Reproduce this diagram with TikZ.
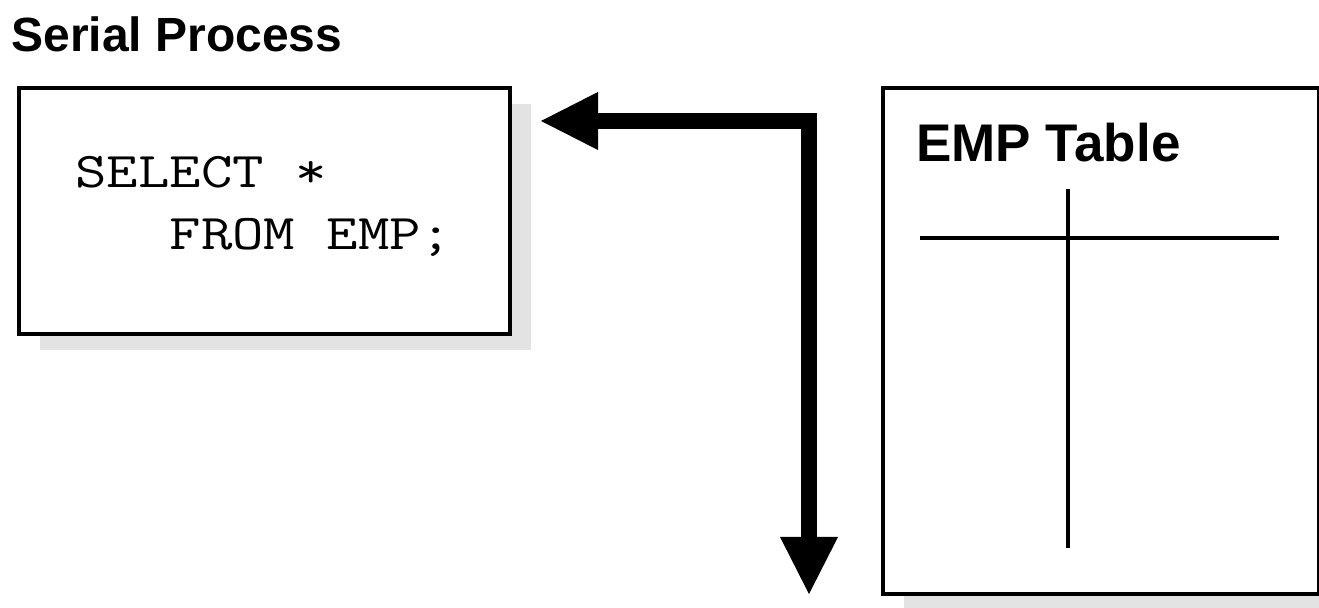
\documentclass[tikz,border=0pt]{standalone}
\usepackage{fontspec}
\setsansfont{Liberation Sans}
\usetikzlibrary{arrows.meta,shadows}

\newcommand{\codefont}{\ttfamily\fontsize{25}{31}\selectfont}

\tikzset{
  panel/.style={draw, line width=2.2pt, fill=white, anchor=north west, inner sep=0pt,
    drop shadow={shadow xshift=10.5pt, shadow yshift=-8pt, fill=black!11, opacity=1}},
  heading/.style={font=\sffamily\bfseries, anchor=base west, inner sep=0pt},
  gridline/.style={line width=2pt},
  bigarrow/.style={line width=8pt, line join=miter,
    {Triangle[length=28.5pt,width=29pt,line width=0pt]}-{Triangle[length=28.5pt,width=29pt,line width=0pt]}}
}

\begin{document}
\begin{tikzpicture}[x=0.5pt, y=-0.5pt]
  \useasboundingbox (0,0) rectangle (1319,608);

  % Serial process with its query
  \node[heading, font=\sffamily\bfseries\fontsize{24}{28}\selectfont] (serial) at (11,52) {Serial Process};
  \node[panel, minimum width=245.5pt, minimum height=123pt] (sql) at (17,86) {};
  \node[anchor=base west, inner sep=0pt, align=left, font=\codefont,
    transform shape, xscale=1.22] (query) at (75,250) {SELECT *\\~~~FROM EMP;};

  % EMP table
  \node[panel, minimum width=218pt, minimum height=253pt] (emp) at (881,86) {};
  \node[heading, font=\sffamily\bfseries\fontsize{26.5}{30}\selectfont] (emptitle) at (916,162) {EMP Table};
  \draw[gridline] (920,238) -- (1279,238);
  \draw[gridline] (1068,189) -- (1068,548);

  % Arrow
  \coordinate (tipL) at (541,121);
  \coordinate (tipD) at (809,594);
  \draw[bigarrow] (tipL) -| (tipD);
\end{tikzpicture}
\end{document}
